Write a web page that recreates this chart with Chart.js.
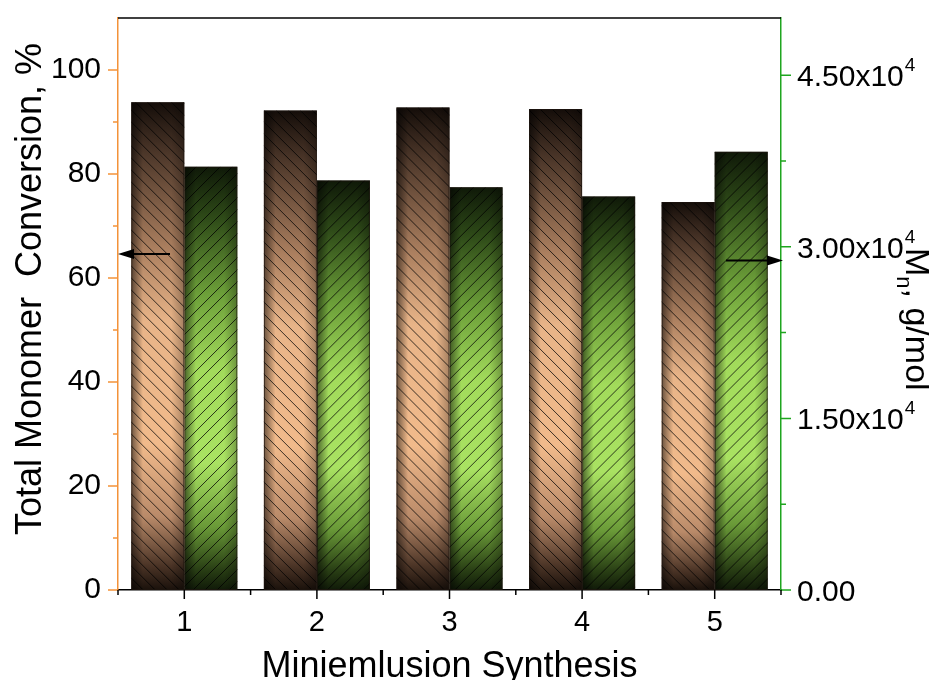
<!DOCTYPE html>
<html>
<head>
<meta charset="utf-8">
<script src="https://cdn.jsdelivr.net/npm/chart.js@4.4.1/dist/chart.umd.min.js"></script>
<style>
  body { margin: 0; background: #fff; }
  #wrap { width: 929px; height: 680px; }
</style>
</head>
<body>
<div id="wrap"><canvas id="bars" width="929" height="680"></canvas></div>
<script>
// values
const categories = ['1', '2', '3', '4', '5'];
const conversion = [93.8, 92.2, 92.8, 92.5, 74.6];     // %, left axis
const molarMass = [37000, 35800, 35200, 34400, 38300];  // g/mol, right axis
const leftTicks = [0, 20, 40, 60, 80, 100];
const rightTicks = [0, 15000, 30000, 45000];
const rightTickText = ['0.00', '1.50x10', '3.00x10', '4.50x10'];
const rightTickExp = ['', '4', '4', '4'];
const arrowLeft = 64.6;     // conversion value where the left arrow sits
const arrowRight = 28800;   // Mn value where the right arrow sits

const FONT = "'Liberation Sans', Arial, sans-serif";
const ORANGE = '#f39239';
const GREEN = '#1fa51f';
const HATCH = 12;

Chart.defaults.font.family = FONT;
Chart.defaults.color = '#000';

function barGradient(stops) {
  return (c) => {
    const chart = c.chart;
    const sc = chart.scales[c.dataset.yAxisID];
    if (!sc || c.raw == null) return stops[3][1];
    const top = sc.getPixelForValue(c.raw);
    const bot = sc.getPixelForValue(0);
    if (!isFinite(top) || !isFinite(bot) || top === bot) return stops[3][1];
    const g = chart.ctx.createLinearGradient(0, top, 0, bot);
    stops.forEach(([o, col]) => g.addColorStop(o, col));
    return g;
  };
}

const brownStops = [
  [0, '#140d09'], [0.1, '#4a3528'], [0.3, '#ab7f5f'], [0.45, '#e8b488'],
  [0.7, '#f1ba8b'], [0.85, '#b98a69'], [0.95, '#4b3426'], [1, '#1a110b']
];
const greenStops = [
  [0, '#0f1908'], [0.12, '#2e4a18'], [0.3, '#6c9f39'], [0.48, '#a2db5b'],
  [0.7, '#a9e262'], [0.85, '#6a9a38'], [0.95, '#2a4015'], [1, '#101a08']
];
const hatchDir = ['back', 'fwd'];

const decor = {
  id: 'decor',
  afterDatasetDraw(chart, args) {
    const ctx = chart.ctx;
    const dir = hatchDir[args.index];
    args.meta.data.forEach(el => {
      const p = el.getProps(['x', 'y', 'base', 'width'], true);
      const l = p.x - p.width / 2, r = p.x + p.width / 2;
      const t = Math.min(p.y, p.base), b = Math.max(p.y, p.base);
      const w = r - l, h = b - t;
      ctx.save();
      ctx.beginPath();
      ctx.rect(l, t, w, h);
      ctx.clip();
      // darker side edges
      const hg = ctx.createLinearGradient(l, 0, r, 0);
      hg.addColorStop(0, 'rgba(0,0,0,0.55)');
      hg.addColorStop(0.22, 'rgba(0,0,0,0)');
      hg.addColorStop(0.75, 'rgba(0,0,0,0)');
      hg.addColorStop(1, 'rgba(0,0,0,0.3)');
      ctx.fillStyle = hg;
      ctx.fillRect(l, t, w, h);
      // hatching
      ctx.strokeStyle = 'rgba(0,0,0,0.75)';
      ctx.lineWidth = 1;
      ctx.beginPath();
      for (let k = -h; k < w + h; k += HATCH) {
        if (dir === 'back') {
          ctx.moveTo(l + k, t); ctx.lineTo(l + k + h, b);
        } else {
          ctx.moveTo(l + k, b); ctx.lineTo(l + k + h, t);
        }
      }
      ctx.stroke();
      ctx.restore();
      ctx.save();
      ctx.strokeStyle = 'rgba(30,22,15,0.7)';
      ctx.lineWidth = 1;
      ctx.strokeRect(l + 0.5, t + 0.5, w - 1, h - 1);
      ctx.restore();
    });
  },
  afterDraw(chart) {
    const ctx = chart.ctx;
    const a = chart.chartArea;
    const sx = chart.scales.x, sl = chart.scales.y, sr = chart.scales.y2;
    ctx.save();
    // top frame
    ctx.strokeStyle = '#000';
    ctx.lineWidth = 1.5;
    ctx.beginPath();
    ctx.moveTo(a.left, a.top); ctx.lineTo(a.right, a.top);
    ctx.stroke();
    // left ticks
    ctx.strokeStyle = ORANGE;
    ctx.beginPath();
    for (let v = 0; v <= 100; v += 10) {
      const y = sl.getPixelForValue(v);
      const len = v % 20 === 0 ? 10 : 5;
      ctx.moveTo(a.left - len, y); ctx.lineTo(a.left, y);
    }
    ctx.stroke();
    // right ticks
    ctx.strokeStyle = GREEN;
    ctx.beginPath();
    for (let v = 0; v <= 45000; v += 7500) {
      const y = sr.getPixelForValue(v);
      const len = v % 15000 === 0 ? 10 : 5;
      ctx.moveTo(a.right, y); ctx.lineTo(a.right + len, y);
    }
    ctx.stroke();
    // right tick labels with superscript exponent
    ctx.fillStyle = '#000';
    ctx.textAlign = 'left';
    ctx.textBaseline = 'alphabetic';
    rightTicks.forEach((v, i) => {
      const y = sr.getPixelForValue(v);
      ctx.font = '30px ' + FONT;
      ctx.fillText(rightTickText[i], a.right + 16, y + 11);
      if (rightTickExp[i]) {
        const w = ctx.measureText(rightTickText[i]).width;
        ctx.font = '19px ' + FONT;
        ctx.fillText(rightTickExp[i], a.right + 17 + w, y - 4);
      }
    });
    // bottom ticks
    ctx.strokeStyle = '#000';
    ctx.beginPath();
    const n = categories.length;
    for (let i = 0; i < n; i++) {
      const x = sx.getPixelForValue(i);
      ctx.moveTo(x, a.bottom); ctx.lineTo(x, a.bottom + 9);
    }
    for (let i = 0; i <= n; i++) {
      const x = i === 0 ? a.left : i === n ? a.right
        : (sx.getPixelForValue(i - 1) + sx.getPixelForValue(i)) / 2;
      ctx.moveTo(x, a.bottom); ctx.lineTo(x, a.bottom + 5);
    }
    ctx.stroke();
    // arrows
    ctx.fillStyle = '#000';
    ctx.strokeStyle = '#000';
    const arrow = (x1, y, x2) => {
      const d = Math.sign(x2 - x1);
      ctx.lineWidth = 2;
      ctx.beginPath(); ctx.moveTo(x1, y); ctx.lineTo(x2 - d * 10, y); ctx.stroke();
      ctx.beginPath();
      ctx.moveTo(x2, y); ctx.lineTo(x2 - d * 16, y - 5); ctx.lineTo(x2 - d * 16, y + 5);
      ctx.closePath(); ctx.fill();
    };
    arrow(a.left + 52, sl.getPixelForValue(arrowLeft), a.left);
    arrow(a.right - 55, sr.getPixelForValue(arrowRight), a.right + 2);
    // titles
    ctx.fillStyle = '#000';
    ctx.font = '36px ' + FONT;
    ctx.textBaseline = 'alphabetic';
    ctx.textAlign = 'center';
    ctx.fillText('Miniemlusion Synthesis', (a.left + a.right) / 2, 677);
    ctx.save();
    ctx.translate(41, 289);
    ctx.rotate(-Math.PI / 2);
    ctx.fillText('Total Monomer  Conversion, %', 0, 0);
    ctx.restore();
    ctx.save();
    ctx.translate(906, 248);
    ctx.rotate(Math.PI / 2);
    ctx.textAlign = 'left';
    ctx.font = '34px ' + FONT;
    ctx.fillText('M', 0, 0);
    let x = ctx.measureText('M').width;
    ctx.font = '22px ' + FONT;
    ctx.fillText('n', x, 9);
    x += ctx.measureText('n').width;
    ctx.font = '34px ' + FONT;
    ctx.fillText(', g/mol', x, 0);
    ctx.restore();
    ctx.restore();
  }
};

function noPad(s) {
  s.paddingTop = 0; s.paddingBottom = 0;
  s.paddingLeft = 0; s.paddingRight = 0;
}

new Chart(document.getElementById('bars'), {
  type: 'bar',
  data: {
    labels: categories,
    datasets: [
      {
        label: 'Conversion',
        data: conversion,
        yAxisID: 'y',
        backgroundColor: barGradient(brownStops),
        borderWidth: 0,
        categoryPercentage: 0.8,
        barPercentage: 1.0
      },
      {
        label: 'Mn',
        data: molarMass,
        yAxisID: 'y2',
        backgroundColor: barGradient(greenStops),
        borderWidth: 0,
        categoryPercentage: 0.8,
        barPercentage: 1.0
      }
    ]
  },
  options: {
    responsive: false,
    animation: false,
    events: [],
    layout: { padding: { top: 18, left: 0, right: 0, bottom: 0 } },
    plugins: { legend: { display: false }, tooltip: { enabled: false } },
    scales: {
      x: {
        offset: true,
        grid: { display: false, drawTicks: false },
        border: { display: true, color: '#000', width: 1.5 },
        ticks: { font: { size: 29 }, padding: 16, color: '#000' },
        afterFit: s => { s.height = 90; noPad(s); }
      },
      y: {
        position: 'left',
        min: 0,
        max: 110,
        grid: { display: false, drawTicks: false },
        border: { display: true, color: ORANGE, width: 1.5 },
        ticks: {
          stepSize: 20,
          includeBounds: false,
          font: { size: 30 },
          padding: 17,
          color: '#000',
          callback: v => leftTicks.includes(v) ? String(v) : ''
        },
        afterFit: s => { s.width = 118; noPad(s); }
      },
      y2: {
        position: 'right',
        min: 0,
        max: 50000,
        grid: { display: false, drawTicks: false },
        border: { display: true, color: GREEN, width: 1.5 },
        ticks: { display: false },
        afterFit: s => { s.width = 148; noPad(s); }
      }
    }
  },
  plugins: [decor]
});
</script>
</body>
</html>
